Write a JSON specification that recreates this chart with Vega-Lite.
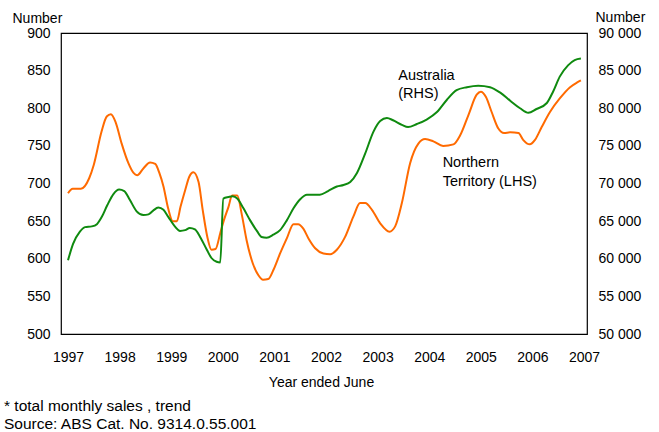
{
  "$schema": "https://vega.github.io/schema/vega-lite/v6.json",
  "autosize": {"type": "none"},
  "width": 526,
  "height": 301,
  "padding": {"left": 61, "top": 33, "right": 72, "bottom": 98},
  "background": "white",
  "config": {
    "font": "Liberation Sans",
    "view": {"stroke": "#000000", "strokeWidth": 1.2},
    "axis": {"grid": false, "domain": false, "ticks": false, "tickSize": 0, "labelFont": "Liberation Sans", "titleFont": "Liberation Sans", "labelFontSize": 14, "titleFontSize": 14, "labelColor": "#000", "titleColor": "#000", "titleFontWeight": "normal"}
  },
  "title": {
    "text": ["* total monthly sales , trend", "Source: ABS Cat. No. 9314.0.55.001"],
    "orient": "bottom",
    "anchor": "start",
    "frame": "group",
    "dx": -57,
    "offset": 10,
    "fontSize": 15.5,
    "fontWeight": "normal",
    "font": "Liberation Sans",
    "color": "#000",
    "lineHeight": 18
  },
  "datasets": {
    "nt": [
      {"year": 1997.0, "value": 687}, {"year": 1997.09, "value": 693}, {"year": 1997.25, "value": 693},
      {"year": 1997.41, "value": 707}, {"year": 1997.5, "value": 725}, {"year": 1997.65, "value": 769},
      {"year": 1997.75, "value": 789}, {"year": 1997.83, "value": 792}, {"year": 1997.92, "value": 782},
      {"year": 1998.04, "value": 753}, {"year": 1998.17, "value": 727}, {"year": 1998.27, "value": 714},
      {"year": 1998.34, "value": 711}, {"year": 1998.46, "value": 720}, {"year": 1998.59, "value": 728},
      {"year": 1998.69, "value": 726}, {"year": 1998.77, "value": 714}, {"year": 1998.85, "value": 696},
      {"year": 1998.94, "value": 667}, {"year": 1999.03, "value": 650}, {"year": 1999.11, "value": 650},
      {"year": 1999.18, "value": 669}, {"year": 1999.27, "value": 691}, {"year": 1999.35, "value": 709},
      {"year": 1999.43, "value": 715}, {"year": 1999.53, "value": 702}, {"year": 1999.61, "value": 665},
      {"year": 1999.7, "value": 629}, {"year": 1999.78, "value": 612}, {"year": 1999.86, "value": 613},
      {"year": 1999.95, "value": 634}, {"year": 2000.02, "value": 651}, {"year": 2000.11, "value": 669},
      {"year": 2000.18, "value": 684}, {"year": 2000.28, "value": 684}, {"year": 2000.37, "value": 658},
      {"year": 2000.46, "value": 625}, {"year": 2000.58, "value": 594}, {"year": 2000.69, "value": 578},
      {"year": 2000.78, "value": 572}, {"year": 2000.88, "value": 573}, {"year": 2000.98, "value": 585},
      {"year": 2001.11, "value": 607}, {"year": 2001.24, "value": 627}, {"year": 2001.37, "value": 646},
      {"year": 2001.46, "value": 646}, {"year": 2001.56, "value": 640}, {"year": 2001.66, "value": 627},
      {"year": 2001.79, "value": 614}, {"year": 2001.95, "value": 607}, {"year": 2002.08, "value": 606},
      {"year": 2002.21, "value": 612}, {"year": 2002.37, "value": 629}, {"year": 2002.53, "value": 656},
      {"year": 2002.66, "value": 674}, {"year": 2002.76, "value": 674}, {"year": 2002.89, "value": 665},
      {"year": 2003.05, "value": 647}, {"year": 2003.23, "value": 636}, {"year": 2003.34, "value": 643},
      {"year": 2003.47, "value": 674}, {"year": 2003.63, "value": 727}, {"year": 2003.79, "value": 753},
      {"year": 2003.92, "value": 759}, {"year": 2004.08, "value": 756}, {"year": 2004.27, "value": 750},
      {"year": 2004.47, "value": 752}, {"year": 2004.6, "value": 764}, {"year": 2004.76, "value": 791},
      {"year": 2004.92, "value": 818}, {"year": 2005.0, "value": 822}, {"year": 2005.1, "value": 815},
      {"year": 2005.21, "value": 795}, {"year": 2005.34, "value": 773}, {"year": 2005.45, "value": 767},
      {"year": 2005.57, "value": 768}, {"year": 2005.73, "value": 767}, {"year": 2005.82, "value": 758},
      {"year": 2005.95, "value": 752}, {"year": 2006.05, "value": 758}, {"year": 2006.18, "value": 775},
      {"year": 2006.34, "value": 795}, {"year": 2006.53, "value": 813}, {"year": 2006.73, "value": 828},
      {"year": 2006.86, "value": 834}, {"year": 2006.94, "value": 837}
    ],
    "aus": [
      {"year": 1997.0, "value": 59800}, {"year": 1997.1, "value": 62000}, {"year": 1997.23, "value": 63600},
      {"year": 1997.33, "value": 64200}, {"year": 1997.46, "value": 64300}, {"year": 1997.56, "value": 64600},
      {"year": 1997.65, "value": 65500}, {"year": 1997.76, "value": 67100}, {"year": 1997.88, "value": 68600},
      {"year": 1997.99, "value": 69200}, {"year": 1998.09, "value": 69000}, {"year": 1998.2, "value": 67800},
      {"year": 1998.33, "value": 66300}, {"year": 1998.46, "value": 65800}, {"year": 1998.56, "value": 65900},
      {"year": 1998.65, "value": 66400}, {"year": 1998.75, "value": 66800}, {"year": 1998.85, "value": 66500},
      {"year": 1998.94, "value": 65600}, {"year": 1999.07, "value": 64300}, {"year": 1999.17, "value": 63700},
      {"year": 1999.27, "value": 63800}, {"year": 1999.36, "value": 64100}, {"year": 1999.46, "value": 63900},
      {"year": 1999.56, "value": 62900}, {"year": 1999.69, "value": 61200}, {"year": 1999.78, "value": 60100},
      {"year": 1999.88, "value": 59600}, {"year": 1999.95, "value": 59500}, {"year": 2000.01, "value": 68000},
      {"year": 2000.11, "value": 68200}, {"year": 2000.19, "value": 68300}, {"year": 2000.28, "value": 68000},
      {"year": 2000.4, "value": 66700}, {"year": 2000.53, "value": 65100}, {"year": 2000.66, "value": 63700},
      {"year": 2000.75, "value": 62900}, {"year": 2000.85, "value": 62800}, {"year": 2000.98, "value": 63200},
      {"year": 2001.11, "value": 63800}, {"year": 2001.24, "value": 65100}, {"year": 2001.37, "value": 66700},
      {"year": 2001.5, "value": 67900}, {"year": 2001.63, "value": 68500}, {"year": 2001.75, "value": 68500},
      {"year": 2001.88, "value": 68500}, {"year": 2002.04, "value": 69000}, {"year": 2002.21, "value": 69600},
      {"year": 2002.34, "value": 69800}, {"year": 2002.47, "value": 70200}, {"year": 2002.6, "value": 71400},
      {"year": 2002.76, "value": 74000}, {"year": 2002.92, "value": 76900}, {"year": 2003.05, "value": 78300},
      {"year": 2003.18, "value": 78700}, {"year": 2003.3, "value": 78400}, {"year": 2003.47, "value": 77800},
      {"year": 2003.59, "value": 77500}, {"year": 2003.76, "value": 77900}, {"year": 2003.95, "value": 78500},
      {"year": 2004.15, "value": 79500}, {"year": 2004.34, "value": 81100}, {"year": 2004.53, "value": 82400},
      {"year": 2004.73, "value": 82800}, {"year": 2004.95, "value": 83000}, {"year": 2005.18, "value": 82800},
      {"year": 2005.37, "value": 82100}, {"year": 2005.57, "value": 81000}, {"year": 2005.76, "value": 80000},
      {"year": 2005.92, "value": 79400}, {"year": 2006.08, "value": 79900}, {"year": 2006.28, "value": 80700},
      {"year": 2006.4, "value": 82200}, {"year": 2006.53, "value": 84200}, {"year": 2006.69, "value": 85700},
      {"year": 2006.82, "value": 86400}, {"year": 2006.94, "value": 86600}
    ],
    "ntlabel": [{"year": 2004.26, "value": 737.1, "label": "Northern\nTerritory (LHS)"}],
    "auslabel": [{"year": 2003.4, "value": 85216, "label": "Australia\n(RHS)"}]
  },
  "encoding": {
    "x": {
      "field": "year",
      "type": "quantitative",
      "scale": {"domain": [1996.864, 2007.058], "nice": false, "zero": false},
      "axis": {
        "title": "Year ended June",
        "values": [1997, 1998, 1999, 2000, 2001, 2002, 2003, 2004, 2005, 2006, 2007],
        "format": "d",
        "labelPadding": 16,
        "labelFlush": false,
        "labelOverlap": false,
        "titleY": 52,
        "titleX": 260,
        "titleBaseline": "alphabetic"
      }
    }
  },
  "layer": [
    {
      "encoding": {
        "y": {
          "field": "value",
          "type": "quantitative",
          "scale": {"domain": [500, 900], "nice": false, "zero": false},
          "axis": {
            "orient": "left",
            "title": "Number",
            "values": [500, 550, 600, 650, 700, 750, 800, 850, 900],
            "labelPadding": 11,
            "titleAngle": 0,
            "titleAlign": "left",
            "titleBaseline": "alphabetic",
            "titleX": -49,
            "titleY": -11
          }
        }
      },
      "layer": [
        {
          "data": {"name": "nt"},
          "mark": {"type": "line", "color": "#FF6A00", "strokeWidth": 2, "interpolate": "monotone"}
        },
        {
          "data": {"name": "ntlabel"},
          "mark": {"type": "text", "align": "left", "baseline": "top", "fontSize": 14.5, "lineHeight": 19, "lineBreak": "\n", "color": "#000", "font": "Liberation Sans"},
          "encoding": {"text": {"field": "label", "type": "nominal"}}
        }
      ]
    },
    {
      "encoding": {
        "y": {
          "field": "value",
          "type": "quantitative",
          "scale": {"domain": [50000, 90000], "nice": false, "zero": false},
          "axis": {
            "orient": "right",
            "title": "Number",
            "values": [50000, 55000, 60000, 65000, 70000, 75000, 80000, 85000, 90000],
            "labelExpr": "replace(format(datum.value, ','), ',', ' ')",
            "labelPadding": 11,
            "titleAngle": 0,
            "titleAlign": "left",
            "titleBaseline": "alphabetic",
            "titleX": 8,
            "titleY": -12
          }
        }
      },
      "layer": [
        {
          "data": {"name": "aus"},
          "mark": {"type": "line", "color": "#0F8A0F", "strokeWidth": 2, "interpolate": "monotone"}
        },
        {
          "data": {"name": "auslabel"},
          "mark": {"type": "text", "align": "left", "baseline": "top", "fontSize": 14.5, "lineHeight": 18, "lineBreak": "\n", "color": "#000", "font": "Liberation Sans"},
          "encoding": {"text": {"field": "label", "type": "nominal"}}
        }
      ]
    }
  ],
  "resolve": {"scale": {"y": "independent"}}
}
